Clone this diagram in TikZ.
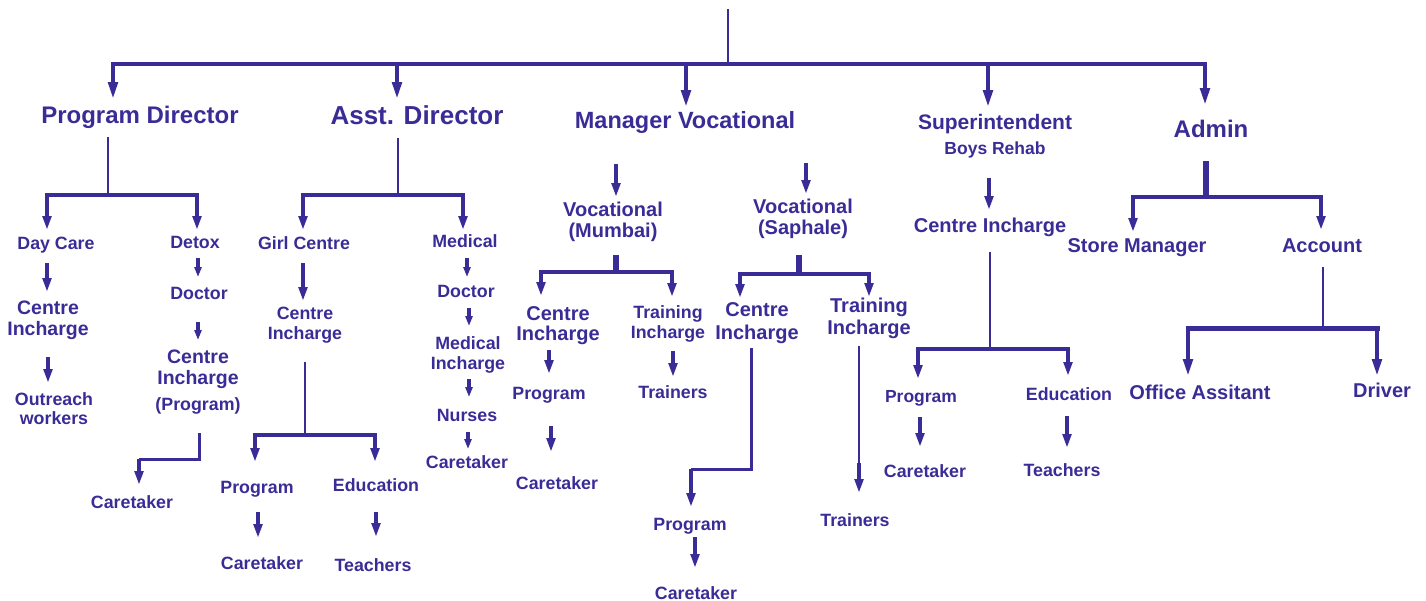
\documentclass[tikz,border=0pt]{standalone}
\usepackage{fontspec}
\setmainfont{Liberation Sans}
\usetikzlibrary{arrows.meta}
\definecolor{ink}{RGB}{58,44,150}
\newcommand\mlines[1]{\begin{tabular}[t]{@{}c@{}}#1\end{tabular}}
\newcommand\fsz[2]{\fontsize{#1}{#2}\selectfont\bfseries}
% vertical connector between two named coordinates: style, name, x, y1, y2
\newcommand\vcon[5]{\coordinate (#2-a) at (#3,#4); \coordinate (#2-b) at (#3,#5); \draw[#1] (#2-a) -- (#2-b);}
% horizontal bar: style, name, x1, x2, y
\newcommand\hcon[5]{\coordinate (#2-l) at (#3,#5); \coordinate (#2-r) at (#4,#5); \draw[#1] (#2-l) -- (#2-r);}
\begin{document}
\begin{tikzpicture}[x=1pt,y=-1pt,
  every node/.style={text=ink, inner sep=0pt, anchor=base},
  font=\fsz{17.8}{20},
  stem/.style={draw=ink, line width=2.2pt},
  bar/.style={draw=ink, line width=3.5pt, line cap=rect},
  wbar/.style={draw=ink, line width=5pt, line cap=rect},
  big/.style={draw=ink, line width=4.5pt, -{Triangle[length=18pt,width=9pt]}},
  arr/.style={draw=ink, line width=4pt, -{Triangle[length=14pt,width=8.5pt]}},
  sarr/.style={draw=ink, line width=3.5pt, -{Triangle[length=10pt,width=7pt]}},
  stub/.style={draw=ink, line width=6.5pt},
  elbow/.style={draw=ink, line width=3pt, line join=miter},
]
\useasboundingbox (0,0) rectangle (1426,600);

% ---------- top level ----------
\vcon{stem}{root}{728}{9}{64}
\hcon{bar}{top}{113}{1205}{64}
\vcon{big}{a1}{113}{64}{100}
\vcon{big}{a2}{397}{64}{100}
\vcon{big}{a3}{686}{64}{108}
\vcon{big}{a4}{988}{64}{108}
\vcon{big}{a5}{1205}{64}{106}

\node[font=\fsz{24}{28}] (pd) at (140,123.5) {Program Director};
\node[font=\fsz{26}{30}] (ad) at (417,124) {Asst. Director};
\node[font=\fsz{23.5}{28}] (mv) at (685,128) {Manager Vocational};
\node[font=\fsz{21}{25}] (su) at (995,129) {\mlines{Superintendent\\{\fsz{17.5}{25}Boys Rehab}}};
\node[font=\fsz{24}{28}] (adm) at (1211,137) {Admin};

% ---------- Program Director ----------
\vcon{stem}{pdl}{108}{137}{195}
\hcon{bar}{pdb}{47}{197}{195}
\vcon{arr}{b1}{47}{195}{230}
\vcon{arr}{b2}{197}{195}{230}
\node (dc) at (56,249) {Day Care};
\node (dt) at (195,248) {Detox};
\vcon{arr}{c1}{47}{263}{292}
\vcon{sarr}{c2}{198}{258}{277}
\node (dr1) at (199,299) {Doctor};
\vcon{sarr}{c3}{198}{322}{340}
\node[font=\fsz{19.5}{21}] (ci1) at (48,314) {\mlines{Centre\\Incharge}};
\vcon{arr}{c4}{48}{357}{383}
\node[font=\fsz{17.8}{19}] (ow) at (54,405) {\mlines{Outreach\\workers}};
\node[font=\fsz{19.5}{21}] (ci2) at (198,363) {\mlines{Centre\\Incharge\\[5pt]{\fsz{17.8}{20}(Program)}}};
\coordinate (e1a) at (199,433);
\coordinate (e1b) at (139,459);
\draw[elbow] (e1a) |- (e1b);
\vcon{arr}{e1}{139}{459}{485}
\node (ct1) at (132,508) {Caretaker};

% ---------- Asst. Director ----------
\vcon{stem}{adl}{398}{138}{195}
\hcon{bar}{adb}{303}{463}{195}
\vcon{arr}{b3}{303}{195}{230}
\vcon{arr}{b4}{463}{195}{230}
\node (gc) at (304,249) {Girl Centre};
\node (md) at (465,247) {Medical};
\vcon{arr}{c5}{303}{263}{301}
\node (ci3) at (305,319.5) {\mlines{Centre\\Incharge}};
\vcon{stem}{gcl}{305}{362}{435}
\hcon{bar}{gcb}{255}{375}{435}
\vcon{arr}{b5}{255}{435}{462}
\vcon{arr}{b6}{375}{435}{462}
\node (pg1) at (257,493) {Program};
\node (ed1) at (376,491) {Education};
\vcon{arr}{c6}{258}{512}{538}
\vcon{arr}{c7}{376}{512}{537}
\node (ct2) at (262,569) {Caretaker};
\node (te1) at (373,571) {Teachers};
\vcon{sarr}{m1}{467}{258}{277}
\node (dr2) at (466,297.5) {Doctor};
\vcon{sarr}{m2}{469}{308}{326}
\node (mi) at (468,349.5) {\mlines{Medical\\Incharge}};
\vcon{sarr}{m3}{469}{379}{397}
\node (nu) at (467,421) {Nurses};
\vcon{sarr}{m4}{468}{432}{449}
\node (ct3) at (467,468) {Caretaker};

% ---------- Manager Vocational ----------
\vcon{arr}{v1}{616}{164}{197}
\vcon{arr}{v2}{806}{163}{194}
\node[font=\fsz{20}{21}] (vm) at (613,216) {\mlines{Vocational\\(Mumbai)}};
\node[font=\fsz{20}{21}] (vs) at (803,213) {\mlines{Vocational\\(Saphale)}};
\vcon{stub}{vm1}{616}{255}{272}
\hcon{bar}{vmb}{541}{672}{272}
\vcon{arr}{b7}{541}{272}{296}
\vcon{arr}{b8}{672}{272}{297}
\vcon{stub}{vs1}{799}{255}{274}
\hcon{bar}{vsb}{740}{869}{274}
\vcon{arr}{b9}{740}{274}{298}
\vcon{arr}{b10}{869}{274}{297}
\node[font=\fsz{20}{20}] (ci4) at (558,320) {\mlines{Centre\\Incharge}};
\vcon{arr}{c8}{549}{350}{374}
\node (pg2) at (549,399) {Program};
\vcon{arr}{c9}{551}{426}{452}
\node (ct4) at (557,489) {Caretaker};
\node (ti1) at (668,318) {\mlines{Training\\Incharge}};
\vcon{arr}{c10}{673}{351}{377}
\node (tr1) at (673,398) {Trainers};
\node[font=\fsz{20}{23}] (ci5) at (757,316) {\mlines{Centre\\Incharge}};
\node[font=\fsz{20}{22}] (ti2) at (869,312) {\mlines{Training\\Incharge}};
\coordinate (e2a) at (751,348);
\coordinate (e2b) at (691,469);
\draw[elbow] (e2a) |- (e2b);
\vcon{arr}{e2}{691}{469}{507}
\node (pg3) at (690,530) {Program};
\vcon{arr}{c11}{695}{537}{568}
\node (ct5) at (696,599) {Caretaker};
\vcon{stem}{tl}{859}{346}{466}
\vcon{arr}{tl2}{859}{463}{493}
\node (tr2) at (855,526) {Trainers};

% ---------- Superintendent ----------
\vcon{arr}{s1}{989}{178}{210}
\node[font=\fsz{20}{22}] (ci6) at (990,232) {Centre Incharge};
\vcon{stem}{scl}{990}{252}{349}
\hcon{bar}{scb}{918}{1068}{349}
\vcon{arr}{b11}{918}{349}{379}
\vcon{arr}{b12}{1068}{349}{376}
\node[font=\fsz{17.5}{20}] (pg4) at (921,402) {Program};
\node (ed2) at (1069,400) {Education};
\vcon{arr}{c12}{920}{417}{447}
\vcon{arr}{c13}{1067}{416}{448}
\node (ct6) at (925,477) {Caretaker};
\node (te2) at (1062,476) {Teachers};

% ---------- Admin ----------
\vcon{stub}{ads}{1206}{161}{197}
\hcon{bar}{adbar}{1133}{1321}{197}
\vcon{arr}{b13}{1133}{197}{232}
\vcon{arr}{b14}{1321}{197}{230}
\node[font=\fsz{20}{22}] (sm) at (1137,252) {Store Manager};
\node[font=\fsz{20}{22}] (ac) at (1322,252) {Account};
\vcon{stem}{acl}{1323}{267}{328}
\hcon{wbar}{acb}{1188}{1377}{328}
\vcon{big}{b15}{1188}{328}{377}
\vcon{big}{b16}{1377}{328}{377}
\node[font=\fsz{20}{22}] (oa) at (1200,399) {Office Assitant};
\node[font=\fsz{20}{22}] (dv) at (1382,397) {Driver};
\end{tikzpicture}
\end{document}
